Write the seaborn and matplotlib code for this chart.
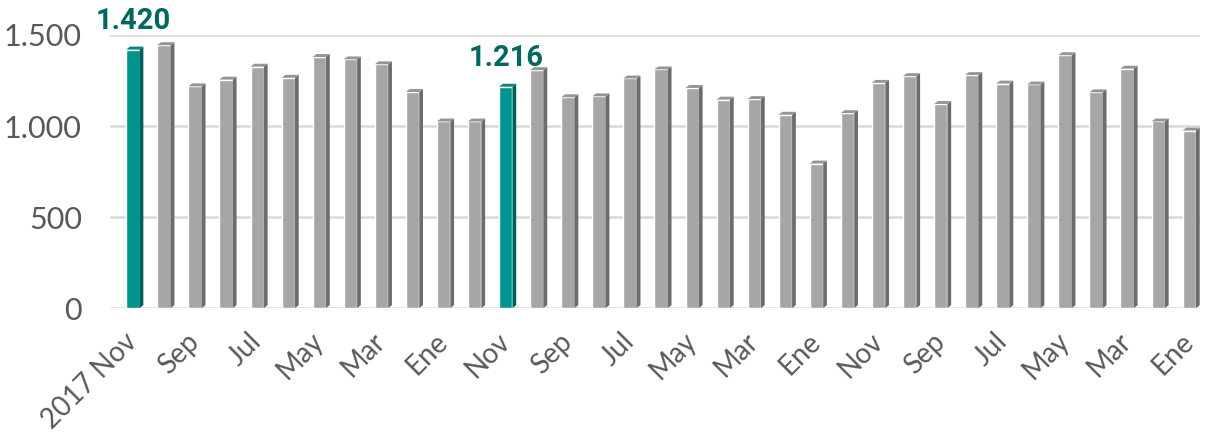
import matplotlib
matplotlib.use("Agg")
import matplotlib.pyplot as plt
from matplotlib.patches import Polygon
import pandas as pd
import seaborn as sns

# Monthly values, newest first (Nov 2017 back to Ene 2015)
periods = [
    "2017-11", "2017-10", "2017-09", "2017-08", "2017-07", "2017-06",
    "2017-05", "2017-04", "2017-03", "2017-02", "2017-01",
    "2016-12", "2016-11", "2016-10", "2016-09", "2016-08", "2016-07",
    "2016-06", "2016-05", "2016-04", "2016-03", "2016-02", "2016-01",
    "2015-12", "2015-11", "2015-10", "2015-09", "2015-08", "2015-07",
    "2015-06", "2015-05", "2015-04", "2015-03", "2015-02", "2015-01",
]
values = [
    1420, 1444, 1218, 1255, 1326, 1265, 1379, 1366, 1339, 1187, 1025,
    1025, 1216, 1307, 1158, 1163, 1261, 1311, 1209, 1145, 1148, 1062, 794,
    1071, 1237, 1274, 1121, 1280, 1233, 1228, 1389, 1185, 1315, 1025, 975,
]
tick_labels = [
    "2017 Nov", "Sep", "Jul", "May", "Mar", "Ene",
    "Nov", "Sep", "Jul", "May", "Mar", "Ene",
    "Nov", "Sep", "Jul", "May", "Mar", "Ene",
]
highlight = ["2017-11", "2016-11"]

df = pd.DataFrame({"period": periods, "value": values})
df["kind"] = ["hi" if p in highlight else "lo" for p in df["period"]]

sns.set_style("white")
plt.rcParams["font.family"] = ["Lato", "DejaVu Sans"]

fig = plt.figure(figsize=(12.05, 4.37), dpi=100)
ax = fig.add_axes([0.091, 0.295, 0.905, 0.625])

palette = {"hi": "#00948F", "lo": "#A6A6A6"}
sns.barplot(data=df, x="period", y="value", hue="kind", palette=palette,
            dodge=False, width=0.43, legend=False, saturation=1, ax=ax)

# fake 3D side and top faces
dx, dy = 0.12, 16
for p in ax.patches:
    x, w, h = p.get_x(), p.get_width(), p.get_height()
    if h <= 0:
        continue
    face = p.get_facecolor()
    dark = tuple(c * 0.65 for c in face[:3])
    top = tuple(min(1, c * 0.9) for c in face[:3])
    side = Polygon([(x + w, 0), (x + w + dx, dy), (x + w + dx, h + dy), (x + w, h)],
                   closed=True, facecolor=dark, edgecolor="none", zorder=p.get_zorder())
    cap = Polygon([(x, h), (x + dx, h + dy), (x + w + dx, h + dy), (x + w, h)],
                  closed=True, facecolor=top, edgecolor="none", zorder=p.get_zorder())
    ax.add_patch(side)
    ax.add_patch(cap)

# value labels on highlighted bars
for i, (p, v) in enumerate(zip(periods, values)):
    if p in highlight:
        ax.text(i, v + 80, f"{v:,}".replace(",", "."), ha="center", va="bottom",
                fontsize=21, fontweight="bold", color="#00675F",
                family=["Roboto", "DejaVu Sans"], clip_on=False)

ax.set_ylim(0, 1500)
ax.set_xlim(-0.75, 34.35)
ax.set_yticks([0, 500, 1000, 1500])
ax.set_yticklabels([f"{t:,}".replace(",", ".") for t in [0, 500, 1000, 1500]],
                   fontsize=22, color="#595959")
ax.set_xticks(range(0, len(periods), 2))
ax.set_xticklabels(tick_labels, rotation=45, ha="right", va="center",
                   rotation_mode="anchor", fontsize=20, color="#595959")
ax.tick_params(axis="both", length=0)
ax.tick_params(axis="y", pad=20)
ax.tick_params(axis="x", pad=21)
ax.yaxis.grid(True, color="#D9D9D9", linewidth=1.8)
ax.set_axisbelow(True)
ax.set_xlabel("")
ax.set_ylabel("")
sns.despine(ax=ax, left=True, bottom=True)

fig.savefig("out.png", dpi=100)
